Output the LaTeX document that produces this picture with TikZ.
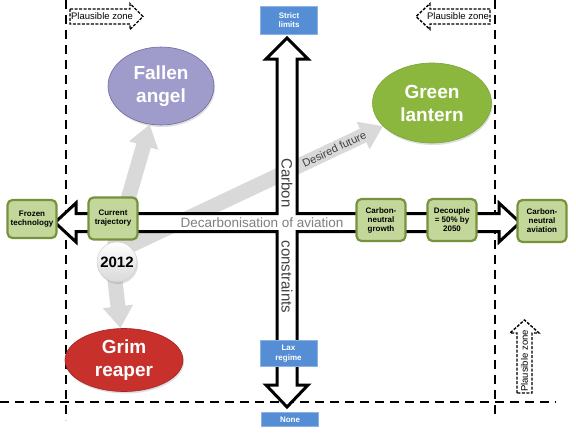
\documentclass[tikz,border=0pt]{standalone}
\usepackage{fontspec}
\setmainfont{Liberation Sans}
\usetikzlibrary{shapes.geometric,arrows.meta,shadows}
\definecolor{angelc}{HTML}{9F9BCB}
\definecolor{angeledge}{HTML}{6F6A9E}
\definecolor{lanternc}{HTML}{8CB73E}
\definecolor{lanternedge}{HTML}{7DA536}
\definecolor{reaperc}{HTML}{C8302C}
\definecolor{reaperedge}{HTML}{A32521}
\definecolor{boxfill}{HTML}{C4D79B}
\definecolor{boxedge}{HTML}{76923C}
\definecolor{bluefill}{HTML}{558ED5}
\definecolor{blueedge}{HTML}{8DB3E2}
\definecolor{arrowgray}{HTML}{D9D9D9}
\definecolor{captgray}{HTML}{7F7F7F}
\definecolor{textgray}{HTML}{404040}

\begin{document}
\begin{tikzpicture}[x=1pt,y=-1pt,
  greenbox/.style={draw=boxedge,fill=boxfill,line width=2.2pt,rounded corners=5pt,
    minimum width=49pt,minimum height=42pt,inner sep=1pt,align=center,
    font=\fontsize{8}{9}\selectfont\bfseries},
  bluebox/.style={draw=blueedge,fill=bluefill,line width=0.6pt,minimum width=57pt,
    inner sep=1pt,align=center,text=white,font=\fontsize{8}{9.5}\selectfont\bfseries},
  scenario/.style={ellipse,inner sep=0pt,align=center,text=white,line width=0.6pt,
    font=\fontsize{19}{23}\selectfont\bfseries,
    drop shadow={opacity=0.25,shadow xshift=1pt,shadow yshift=-2pt}},
  futurearrow/.style={draw=arrowgray,line width=15pt,-{Triangle[length=22pt,width=29pt]}},
  zone/.style={dash pattern=on 9pt off 6pt,line width=1.5pt},
  plausible/.style={dash pattern=on 3pt off 1.5pt,line width=1.4pt},
  pztext/.style={inner sep=0pt,font=\fontsize{9.5}{9.5}\selectfont}]
\useasboundingbox (0,0) rectangle (576,432);

%画出虚线边界
\draw[zone] (66,0) -- (66,420);
\draw[zone] (495,0) -- (495,418);
\draw[zone] (0,402) -- (556,402);

%画出三种情景
\node[scenario,fill=angelc,draw=angeledge,minimum width=106pt,minimum height=78pt] (angel) at (161,86) {Fallen\\angel};
\node[scenario,fill=lanternc,draw=lanternedge,minimum width=119pt,minimum height=80pt] (lantern) at (432,103) {Green\\lantern};
\node[scenario,fill=reaperc,draw=reaperedge,minimum width=118pt,minimum height=63pt] (reaper) at (124,360) {Grim\\reaper};

%画出灰色箭头
\coordinate (origin) at (112,254);
\draw[futurearrow] (origin) -- (angel);
\draw[futurearrow] (origin) -- (reaper);
\draw[futurearrow] (origin) -- (lantern)
  node[pos=0.82,sloped,text=textgray,font=\fontsize{11}{11}\selectfont] (desired) {Desired future};

%画出十字箭头
\draw[line width=3pt,fill=white,line join=miter] (287,38) -- (308,59) -- (297,59) -- (297,213.5)
  -- (499,213.5) -- (499,203) -- (520,222.5) -- (499,242) -- (499,231.5) -- (297,231.5)
  -- (297,385) -- (308,385) -- (287,407) -- (266,385) -- (277,385) -- (277,231.5)
  -- (76,231.5) -- (76,242) -- (55,222.5) -- (76,203) -- (76,213.5) -- (277,213.5)
  -- (277,59) -- (266,59) -- cycle;
\node[text=captgray,font=\fontsize{13.5}{14}\selectfont] (decarb) at (262,222.5) {Decarbonisation of aviation};
\node[rotate=-90,text=textgray,font=\fontsize{15}{15}\selectfont] (carbon) at (287,183) {Carbon};
\node[rotate=-90,text=textgray,font=\fontsize{15}{15}\selectfont] (constr) at (287,277) {constraints};

%画出方框
\node[greenbox,minimum height=38pt] (frozen) at (32,219) {Frozen\\technology};
\node[greenbox] (current) at (113,218.5) {Current\\trajectory};
\node[greenbox] (cngrowth) at (381,220) {Carbon-\\neutral\\growth};
\node[greenbox] (decouple) at (452,220) {Decouple\\= 50\% by\\2050};
\node[greenbox] (cnaviation) at (542,221) {Carbon-\\neutral\\aviation};
\node[bluebox,minimum height=28pt] (strict) at (289,20) {Strict\\limits};
\node[bluebox,minimum height=26pt] (lax) at (288.5,353.5) {Lax\\regime};
\node[bluebox,minimum height=14pt] (none) at (290,419.5) {None};

%标注2012
\node[circle,minimum size=40pt,inner sep=0pt,draw=gray!40,top color=white,bottom color=gray!30,
  drop shadow={opacity=0.25,shadow xshift=1pt,shadow yshift=-2pt},
  font=\fontsize{15}{15}\selectfont\bfseries] (yr) at (117,262) {2012};

%作Plausible zone的标注
\draw[plausible] (70,9) -- (130,9) -- (130,3.5) -- (143,16.5) -- (130,29.5) -- (130,24) -- (70,24) -- cycle;
\node[pztext] (pzleft) at (102,16.5) {Plausible zone};
\draw[plausible] (490,9) -- (430,9) -- (430,3.5) -- (416,16.5) -- (430,29.5) -- (430,24) -- (490,24) -- cycle;
\node[pztext] (pzright) at (458,16.5) {Plausible zone};
\draw[plausible] (517,393) -- (517,333) -- (510,333) -- (524.5,320) -- (539,333) -- (532,333) -- (532,393) -- cycle;
\node[pztext,rotate=90] (pzbottom) at (524.5,361) {Plausible zone};
\end{tikzpicture}
\end{document}
